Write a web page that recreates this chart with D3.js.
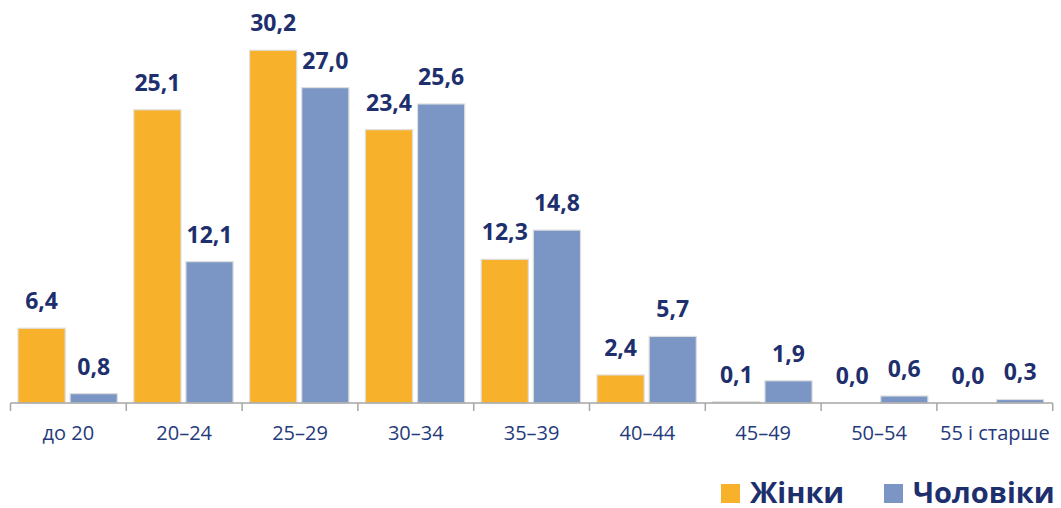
<!DOCTYPE html>
<html>
<head>
<meta charset="utf-8">
<script src="https://cdn.jsdelivr.net/npm/d3@7"></script>
<style>
  body { margin: 0; background: #fff; }
  svg { display: block; }
</style>
</head>
<body>
<div id="chart"></div>
<script>
// дані
var categories = ["до 20", "20–24", "25–29", "30–34", "35–39", "40–44", "45–49", "50–54", "55 і старше"];
var series = ["Жінки", "Чоловіки"];
var women = [6.4, 25.1, 30.2, 23.4, 12.3, 2.4, 0.1, 0.0, 0.0];
var men = [0.8, 12.1, 27.0, 25.6, 14.8, 5.7, 1.9, 0.6, 0.3];

var colors = {"Жінки": "#f8b12b", "Чоловіки": "#7b96c4"};

var width = 1061, height = 508;
var axisY = 403;

var svg = d3.select("#chart").append("svg")
    .attr("width", width)
    .attr("height", height);

var x0 = d3.scaleBand()
    .domain(categories)
    .range([10.5, 1052.7])
    .padding(0);

var x1 = d3.scaleBand()
    .domain(series)
    .range([7.5, x0.bandwidth() - 9])
    .paddingInner(0.095);

var y = d3.scaleLinear()
    .domain([0, 34.5])
    .range([axisY, 0]);

var rows = categories.map(function (c, i) {
    return {cat: c, values: [
        {key: "Жінки", value: women[i]},
        {key: "Чоловіки", value: men[i]}
    ]};
});

var groups = svg.selectAll(".group")
    .data(rows)
    .enter().append("g")
    .attr("class", "group")
    .attr("transform", function (d) { return "translate(" + x0(d.cat) + ",0)"; });

// стовпці
groups.selectAll("rect")
    .data(function (d) { return d.values; })
    .enter().append("rect")
    .attr("x", function (d) { return x1(d.key); })
    .attr("y", function (d) { return y(d.value); })
    .attr("width", x1.bandwidth())
    .attr("height", function (d) { return axisY - y(d.value); })
    .attr("fill", function (d) { return colors[d.key]; })
    .attr("stroke", function (d) { return d.value > 0 ? "#dedede" : "none"; })
    .attr("stroke-width", 1.2);

// підписи значень
groups.selectAll("text.val")
    .data(function (d) { return d.values; })
    .enter().append("text")
    .attr("class", "val")
    .attr("x", function (d) { return x1(d.key) + x1.bandwidth() / 2; })
    .attr("y", function (d) { return y(d.value) - 19; })
    .attr("text-anchor", "middle")
    .style("font-family", "'Open Sans', sans-serif")
    .style("font-weight", "bold")
    .style("font-size", "23px")
    .attr("fill", "#1e2f6e")
    .text(function (d) { return d.value.toFixed(1).replace(".", ","); });

// вісь
var axis = svg.append("g")
    .attr("transform", "translate(0," + axisY + ")");

axis.append("line")
    .attr("x1", x0.range()[0])
    .attr("x2", x0.range()[1])
    .attr("stroke", "#a6a6a6")
    .attr("stroke-width", 1.5);

var ticks = categories.map(function (c) { return x0(c); }).concat([x0.range()[1]]);
axis.selectAll(".tick")
    .data(ticks)
    .enter().append("line")
    .attr("x1", function (d) { return d; })
    .attr("x2", function (d) { return d; })
    .attr("y1", 0)
    .attr("y2", 8)
    .attr("stroke", "#a6a6a6")
    .attr("stroke-width", 1.5);

axis.selectAll(".lbl")
    .data(categories)
    .enter().append("text")
    .attr("x", function (d) { return x0(d) + x0.bandwidth() / 2; })
    .attr("y", 37)
    .attr("text-anchor", "middle")
    .style("font-family", "'Open Sans', sans-serif")
    .style("font-size", "20px")
    .attr("fill", "#253a7a")
    .text(function (d) { return d; });

// легенда
var legend = svg.append("g");
var legendX = [721, 884];
series.forEach(function (s, i) {
    var item = legend.append("g")
        .attr("transform", "translate(" + legendX[i] + ",484)");
    item.append("rect")
        .attr("width", 19)
        .attr("height", 19)
        .attr("fill", colors[s]);
    item.append("text")
        .attr("x", 29)
        .attr("y", 19)
        .style("font-family", "'Open Sans', sans-serif")
        .style("font-weight", "bold")
        .style("font-size", "29px")
        .attr("fill", "#1e2f6e")
        .text(s);
});
</script>
</body>
</html>
